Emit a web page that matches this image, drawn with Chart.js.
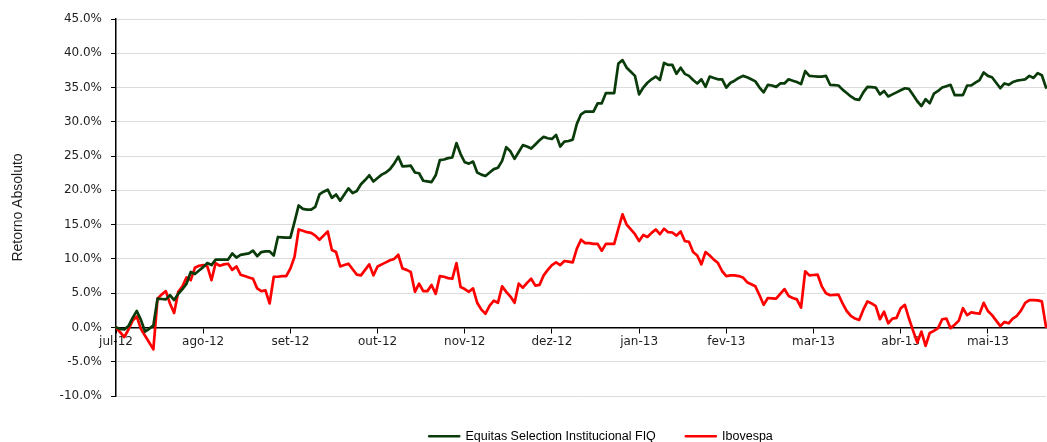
<!DOCTYPE html>
<html>
<head>
<meta charset="utf-8">
<script src="https://cdn.jsdelivr.net/npm/chart.js@4.4.1/dist/chart.umd.min.js"></script>
<style>
  html, body { margin: 0; padding: 0; background: #ffffff; }
  #wrap { width: 1047px; height: 442px; }
</style>
</head>
<body>
<div id="wrap"><canvas id="c" width="1047" height="442"></canvas></div>
<script>
// Month tick labels (one every 21 trading days)
const meses = ['jul-12','ago-12','set-12','out-12','nov-12','dez-12','jan-13','fev-13','mar-13','abr-13','mai-13'];
const pontosPorMes = 21;

// Equitas Selection Institucional FIQ - retorno acumulado (%)
const fundo = [
  0.0,-0.2,-0.3,0.2,1.4,2.4,1.1,-0.6,-0.2,0.3,
  4.2,4.15,4.1,4.7,4.0,4.9,5.6,6.4,8.1,7.8,
  8.3,8.8,9.4,9.1,9.9,9.9,9.9,9.9,10.8,10.2,
  10.6,10.7,10.8,11.2,10.4,11.0,11.1,11.1,10.5,13.2,
  13.15,13.1,13.1,15.4,17.8,17.3,17.2,17.2,17.6,19.4,
  19.8,20.1,18.9,19.4,18.5,19.4,20.3,19.6,19.9,20.9,
  21.5,22.2,21.3,21.8,22.3,22.6,23.1,23.9,24.9,23.5,
  23.55,23.6,22.6,22.5,21.4,21.3,21.2,22.2,24.4,24.5,
  24.7,24.8,26.9,25.3,24.1,23.9,24.2,22.6,22.3,22.1,
  22.6,23.1,23.3,24.3,26.3,25.7,24.6,25.6,26.6,26.4,
  26.1,26.7,27.3,27.8,27.6,27.5,28.1,26.4,27.1,27.2,
  27.4,29.7,31.1,31.5,31.5,31.5,32.7,32.7,34.2,34.2,
  34.2,38.5,39.0,37.9,37.3,36.7,34.0,35.0,35.7,36.2,
  36.6,36.1,38.6,38.3,38.3,37.0,37.9,37.0,36.7,36.1,
  35.6,36.2,35.1,36.6,36.4,36.2,36.2,35.0,35.7,36.0,
  36.4,36.7,36.5,36.2,35.9,35.0,34.3,35.4,35.3,35.1,
  35.6,35.6,36.2,36.0,35.8,35.5,37.4,36.7,36.65,36.6,
  36.6,36.7,35.4,35.35,35.3,34.7,34.2,33.7,33.3,33.2,
  34.3,35.1,35.05,35.0,34.0,34.5,33.7,34.0,34.3,34.6,
  34.9,34.8,33.9,33.0,32.3,33.3,32.7,34.1,34.5,35.0,
  35.2,35.4,33.9,33.9,33.9,35.3,35.3,35.7,36.1,37.2,
  36.7,36.5,35.7,34.9,35.6,35.4,35.8,36.0,36.1,36.2,
  36.7,36.4,37.1,36.8,35.0
];

// Ibovespa - retorno acumulado (%)
const ibovespa = [
  0.0,-0.7,-1.4,-0.3,1.0,1.6,-0.2,-1.2,-2.2,-3.2,
  4.2,4.8,5.3,3.5,2.1,5.2,6.0,7.3,6.9,8.7,
  9.0,9.1,8.9,6.9,9.4,9.0,9.2,9.3,8.4,8.9,
  7.7,7.5,7.3,7.1,5.7,5.3,5.4,3.5,7.4,7.4,
  7.5,7.5,8.6,10.3,14.3,14.1,13.9,13.8,13.4,12.8,
  13.4,14.0,11.3,11.0,8.9,9.1,9.3,8.5,7.7,7.6,
  8.4,9.2,7.6,8.9,9.2,9.5,9.8,10.0,10.6,8.6,
  8.4,8.1,5.2,6.4,5.3,5.3,6.2,4.9,7.5,7.4,
  7.2,7.1,9.4,5.9,5.6,5.2,5.7,3.6,2.6,2.0,
  3.2,3.9,3.6,6.0,5.2,4.5,3.6,6.4,5.8,6.5,
  7.1,6.1,6.2,7.6,8.4,9.1,9.5,9.1,9.7,9.6,
  9.5,11.5,12.8,12.3,12.3,12.2,12.2,11.2,12.2,12.2,
  12.2,14.4,16.5,15.0,14.3,13.6,12.6,13.5,13.2,13.8,
  14.3,13.6,14.4,13.9,13.85,13.4,14.0,12.6,12.5,11.0,
  10.5,9.2,11.0,10.5,9.9,9.4,8.2,7.5,7.6,7.6,
  7.5,7.3,6.6,6.3,6.0,4.7,3.3,4.3,4.25,4.2,
  4.9,5.6,4.6,4.3,4.1,2.9,8.2,7.6,7.65,7.7,
  6.0,5.0,4.7,4.75,4.8,3.5,2.4,1.7,1.3,1.1,
  2.6,3.8,3.5,3.1,1.2,2.3,0.6,1.3,1.4,2.8,
  3.3,1.3,-0.5,-2.2,-0.6,-2.7,-0.8,-0.5,-0.1,1.2,
  1.3,-0.1,0.4,1.0,2.8,1.8,2.2,2.1,2.0,3.6,
  2.4,1.8,1.0,0.2,0.8,0.6,1.3,1.7,2.5,3.6,
  4.0,4.0,3.95,3.8,0.1
];

const categorias = fundo.map((_, i) => (i % pontosPorMes === 0 && meses[i / pontosPorMes]) ? meses[i / pontosPorMes] : '');

const corFundo = '#0a3b0a';
const corIbov = '#ff0000';
const textColor = '#1e1e1e';
const tickFont = { family: 'DejaVu Sans', size: 12 };

const legendShift = {
  id: 'legendShift',
  afterLayout(chart) {
    const lg = chart.legend;
    if (lg) { lg.left += 78; lg.right += 78; lg.top += 4; lg.bottom += 4; }
  }
};

new Chart(document.getElementById('c'), {
  type: 'line',
  data: {
    labels: categorias,
    datasets: [
      { label: 'Equitas Selection Institucional FIQ', data: fundo, borderColor: corFundo, backgroundColor: corFundo,
        borderWidth: 2.7, pointRadius: 0, pointHoverRadius: 0, tension: 0, borderJoinStyle: 'round', borderCapStyle: 'round' },
      { label: 'Ibovespa', data: ibovespa, borderColor: corIbov, backgroundColor: corIbov,
        borderWidth: 2.7, pointRadius: 0, pointHoverRadius: 0, tension: 0, borderJoinStyle: 'round', borderCapStyle: 'round' }
    ]
  },
  options: {
    responsive: false,
    animation: false,
    devicePixelRatio: 1,
    layout: { padding: { top: 19, right: 1, bottom: 0, left: 0 } },
    plugins: {
      tooltip: { enabled: false },
      legend: {
        position: 'bottom',
        maxHeight: 46,
        labels: {
          boxWidth: 30, boxHeight: 0, padding: 30, color: '#000',
          font: { family: 'Liberation Sans', size: 12.5 }
        }
      }
    },
    scales: {
      x: {
        type: 'category',
        position: { y: 0 },
        offset: false,
        grid: {
          drawOnChartArea: false, drawTicks: true, tickLength: 5, tickWidth: 1,
          tickColor: (c) => (c.tick && c.tick.label) ? '#000' : 'rgba(0,0,0,0)',
          color: 'rgba(0,0,0,0)'
        },
        border: { display: true, color: '#000', width: 1.5 },
        ticks: {
          autoSkip: false, maxRotation: 0, minRotation: 0, padding: 2,
          color: textColor, font: tickFont,
          callback: function (v) { const l = this.getLabelForValue(v); return l ? l : null; }
        },
        afterFit(s) { s.height = 7; }
      },
      y: {
        min: -10, max: 45,
        ticks: { stepSize: 5, padding: 9, color: textColor, font: tickFont, callback: (v) => Number(v).toFixed(1) + '%' },
        grid: { color: '#dcdcdc', lineWidth: 1, drawTicks: true, tickLength: 5, tickColor: '#000' },
        border: { display: true, color: '#000', width: 1.5 },
        title: { display: true, text: 'Retorno Absoluto', color: textColor,
                 font: { family: 'Liberation Sans', size: 14 }, padding: { top: 10, bottom: 0 } },
        afterFit(s) { s.width = 116; }
      }
    }
  },
  plugins: [legendShift]
});
</script>
</body>
</html>
